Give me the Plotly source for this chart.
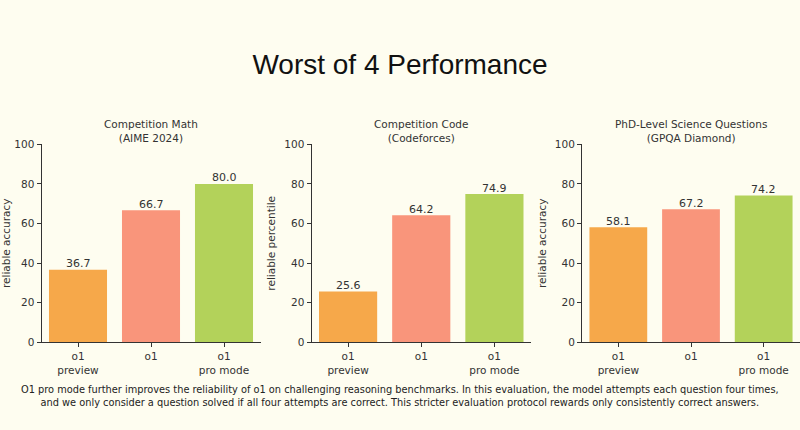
import plotly.graph_objects as go

categories = ["o1<br>preview", "o1", "o1<br>pro mode"]
math_vals = [36.7, 66.7, 80.0]
code_vals = [25.6, 64.2, 74.9]
gpqa_vals = [58.1, 67.2, 74.2]
panel_titles = ["Competition Math<br>(AIME 2024)", "Competition Code<br>(Codeforces)",
                "PhD-Level Science Questions<br>(GPQA Diamond)"]
y_titles = ["reliable accuracy", "reliable percentile", "reliable accuracy"]
bar_colors = ["#F6A84A", "#F9957B", "#B3D25A"]
footnote = ("O1 pro mode further improves the reliability of o1 on challenging reasoning benchmarks. "
            "In this evaluation, the model attempts each question four times,<br>and we only consider a "
            "question solved if all four attempts are correct. This stricter evaluation protocol rewards "
            "only consistently correct answers.")

BG = "#FEFDF0"
AX = "#333333"
FONT = "DejaVu Sans"
W, H = 800, 430

x_domains = [[41.5 / W, 260.5 / W], [311.5 / W, 531 / W], [582 / W, 1.0]]
y_domain = [(H - 342.3) / H, (H - 144.3) / H]

fig = go.Figure()
series = [math_vals, code_vals, gpqa_vals]
for i, vals in enumerate(series):
    sfx = "" if i == 0 else str(i + 1)
    fig.add_trace(go.Bar(
        x=categories, y=vals, marker=dict(color=bar_colors, line=dict(width=0)),
        xaxis="x" + sfx, yaxis="y" + sfx, showlegend=False, hoverinfo="x+y",
    ))
    for c, v in zip(categories, vals):
        fig.add_annotation(x=c, y=v, xref="x" + sfx, yref="y" + sfx, text=f"{v:.1f}",
                           yanchor="bottom", showarrow=False, yshift=-2.5,
                           font=dict(family=FONT, size=11, color=AX))
    axis_common = dict(showline=True, linecolor=AX, linewidth=1, ticks="outside",
                       ticklen=4, tickwidth=1, tickcolor=AX, showgrid=False, zeroline=False,
                       automargin=False,
                       tickfont=dict(family=FONT, size=10.5, color=AX))
    fig.layout["xaxis" + sfx] = dict(domain=x_domains[i], anchor="y" + sfx,
                                     range=[-0.5, 2.5], **axis_common)
    fig.layout["yaxis" + sfx] = dict(domain=y_domain, anchor="x" + sfx, range=[0, 100],
                                     tickvals=[0, 20, 40, 60, 80, 100],
                                     title=dict(text=y_titles[i], standoff=6,
                                                font=dict(family=FONT, size=10.5, color=AX)),
                                     **axis_common)
    fig.add_annotation(text=panel_titles[i], xref="paper", yref="paper",
                       x=sum(x_domains[i]) / 2, y=(H - 146) / H, yanchor="bottom",
                       xanchor="center", showarrow=False,
                       font=dict(family=FONT, size=10.5, color=AX))

fig.add_annotation(text=footnote, xref="paper", yref="paper", x=0.5, y=(H - 395.5) / H,
                   xanchor="center", yanchor="middle", showarrow=False,
                   font=dict(family=FONT, size=9.8, color="#222222"))

fig.update_layout(
    width=W, height=H, margin=dict(l=0, r=0, t=0, b=0),
    paper_bgcolor=BG, plot_bgcolor=BG, bargap=0.205,
    title=dict(text="Worst of 4 Performance", x=0.5, xanchor="center",
               y=(H - 64) / H, yanchor="middle",
               font=dict(family="Liberation Sans", size=28, color="#111111")),
)

fig.write_html("out.html", config={"displayModeBar": False},
               post_script="document.body.style.margin='0';document.body.style.overflow='hidden';")
